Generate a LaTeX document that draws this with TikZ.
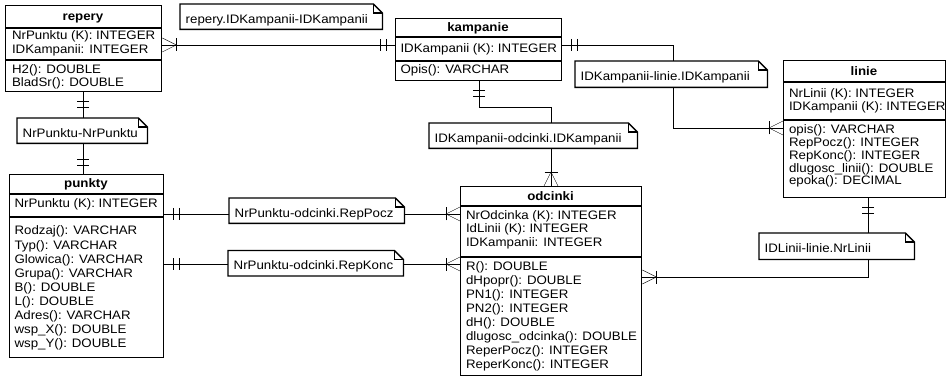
\documentclass[tikz,border=0pt]{standalone}
\usepackage{fontspec}
\setmainfont{Liberation Sans}[FakeStretch=1.08]
\usetikzlibrary{backgrounds}
\newcommand\entsep[3][1.3pt]{\draw[line width=#1] ([yshift=-#3]#2.north west) -- ([yshift=-#3]#2.north east);}
\newcommand\noteoutline[1]{%
  \draw[draw=black,line width=1.3pt,line join=miter] (#1.north west) -- ([xshift=-9pt]#1.north east) -- ([yshift=-9pt]#1.north east) -- (#1.south east) -- (#1.south west) -- cycle;
  \draw[draw=black,line width=1.1pt] ([xshift=-9pt]#1.north east) |- ([yshift=-9pt]#1.north east);}
\tikzset{
  crow/.pic={\draw (0,-7) -- (14,0) -- (0,7); \draw (14,-6.5) -- (14,6.5);},
  dbar/.pic={\draw (9,-6) -- (9,6) (15,-6) -- (15,6);}
}
\begin{document}
\begin{tikzpicture}[x=1pt,y=-1pt,line width=1.1pt,
  every node/.style={font=\fontsize{12.3}{14}\selectfont},
  ent/.style={draw,line width=1.3pt,rectangle,inner sep=0pt,anchor=north west},
  ttl/.style={font=\fontsize{12.3}{14}\selectfont\bfseries,anchor=base,inner sep=0pt},
  attr/.style={anchor=base west,inner sep=0pt},
  notebox/.style={fill=white,inner xsep=5.5pt,inner ysep=0pt,anchor=north west,align=left,text height=12.8pt,text depth=0pt,minimum height=25pt}
]
\useasboundingbox (0,0) rectangle (946,377);

% ---------- entities ----------
\node[ent,minimum width=156pt,minimum height=86pt] (repery) at (5,5) {};
\node[ttl] (repery-t) at (83,20.5) {repery};
\entsep{repery}{23pt}\entsep{repery}{55pt}
\node[attr] (rep-1) at (11.5,39.5) {NrPunktu (K): INTEGER};
\node[attr] (rep-2) at (11.5,53.5) {IDKampanii: INTEGER};
\node[attr] (rep-3) at (11.5,73.5) {H2(): DOUBLE};
\node[attr] (rep-4) at (11.5,87) {BladSr(): DOUBLE};

\node[ent,minimum width=166pt,minimum height=62pt] (kampanie) at (395,18) {};
\node[ttl] (kampanie-t) at (478,31.5) {kampanie};
\entsep{kampanie}{19pt}\entsep{kampanie}{43pt}
\node[attr] (kam-1) at (400,52.5) {IDKampanii (K): INTEGER};
\node[attr] (kam-2) at (400,74) {Opis(): VARCHAR};

\node[ent,minimum width=162pt,minimum height=137pt] (linie) at (783,60) {};
\node[ttl] (linie-t) at (864,75.5) {linie};
\entsep{linie}{22pt}\entsep{linie}{60pt}
\foreach \t/\y [count=\i] in {NrLinii (K): INTEGER/97.5, IDKampanii (K): INTEGER/110.5,
  opis(): VARCHAR/134, RepPocz(): INTEGER/147, RepKonc(): INTEGER/160,
  dlugosc\_linii(): DOUBLE/172.5, epoka(): DECIMAL/185}
  \node[attr] (lin-\i) at (788.5,\y) {\t};

\node[ent,minimum width=154pt,minimum height=183pt] (punkty) at (9,174) {};
\node[ttl] (punkty-t) at (86,188) {punkty};
\entsep{punkty}{20pt}\entsep[2pt]{punkty}{43pt}
\node[attr] (pun-k) at (14,207.5) {NrPunktu (K): INTEGER};
\foreach \t [count=\i from 0] in {Rodzaj(): VARCHAR, Typ(): VARCHAR, Glowica(): VARCHAR,
  Grupa(): VARCHAR, B(): DOUBLE, L(): DOUBLE, Adres(): VARCHAR, wsp\_X(): DOUBLE, wsp\_Y(): DOUBLE}
  \node[attr] (pun-\i) at (14,{235+14.04*\i}) {\t};

\node[ent,minimum width=181pt,minimum height=189pt] (odcinki) at (460,186) {};
\node[ttl] (odcinki-t) at (550.5,200.5) {odcinki};
\entsep{odcinki}{20pt}\entsep{odcinki}{71pt}
\foreach \t [count=\i from 0] in {NrOdcinka (K): INTEGER, IdLinii (K): INTEGER, IDKampanii: INTEGER}
  \node[attr] (odk-\i) at (465.5,{219+14*\i}) {\t};
\foreach \t [count=\i from 0] in {R(): DOUBLE, dHpopr(): DOUBLE, PN1(): INTEGER, PN2(): INTEGER,
  dH(): DOUBLE, dlugosc\_odcinka(): DOUBLE, ReperPocz(): INTEGER, ReperKonc(): INTEGER}
  \node[attr] (oda-\i) at (465.5,{270.7+13.94*\i}) {\t};

% ---------- helper coordinates ----------
\coordinate (r1) at (0,45);
\coordinate (rl) at (0,128);
\coordinate (bk) at (0,107);
\coordinate (r5) at (0,214);
\coordinate (r6) at (0,264);
\coordinate (r7) at (0,277);
\coordinate (x2) at (673,0);
\coordinate (x3k) at (479,0);
\coordinate (x3o) at (551,0);
\coordinate (x4) at (83,0);
\coordinate (x7) at (868,0);

% ---------- connectors ----------
\begin{pgfonlayer}{background}
\draw (repery.east |- r1) -- (kampanie.west |- r1);
\draw (kampanie.east |- r1) -| (x2 |- rl) -- (linie.west |- rl);
\draw (kampanie.south -| x3k) |- (bk -| x3o) -- (odcinki.north -| x3o);
\draw (repery.south -| x4) -- (punkty.north -| x4);
\draw (punkty.east |- r5) -- (odcinki.west |- r5);
\draw (punkty.east |- r6) -- (odcinki.west |- r6);
\draw (linie.south -| x7) |- (odcinki.east |- r7);
\end{pgfonlayer}

\pic at (repery.east |- r1) {crow};
\pic[rotate=180] at (kampanie.west |- r1) {dbar};
\pic at (kampanie.east |- r1) {dbar};
\pic[rotate=180] at (linie.west |- rl) {crow};
\pic[rotate=-90] at (kampanie.south -| x3k) {dbar};
\pic[rotate=90] at (odcinki.north -| x3o) {crow};
\pic[rotate=-90] at (repery.south -| x4) {dbar};
\pic[rotate=90] at (punkty.north -| x4) {dbar};
\pic at (punkty.east |- r5) {dbar};
\pic[rotate=180] at (odcinki.west |- r5) {crow};
\pic at (punkty.east |- r6) {dbar};
\pic[rotate=180] at (odcinki.west |- r6) {crow};
\pic[rotate=-90] at (linie.south -| x7) {dbar};
\pic at (odcinki.east |- r7) {crow};

% ---------- notes ----------
\node[notebox,text width=191pt] (n1) at (180,4) {repery.IDKampanii-IDKampanii};
\node[notebox,text width=119pt] (n2) at (17,118) {NrPunktu-NrPunktu};
\node[notebox,text width=181pt,minimum height=26pt] (n3) at (575,61) {IDKampanii-linie.IDKampanii};
\node[notebox,text width=197pt] (n4) at (429,123) {IDKampanii-odcinki.IDKampanii};
\node[notebox,text width=164pt] (n5) at (229,198) {NrPunktu-odcinki.RepPocz};
\node[notebox,text width=164pt] (n6) at (228,250.5) {NrPunktu-odcinki.RepKonc};
\node[notebox,text width=144pt,minimum height=26pt] (n7) at (759,233) {IDLinii-linie.NrLinii};
\noteoutline{n1}\noteoutline{n2}\noteoutline{n3}\noteoutline{n4}
\noteoutline{n5}\noteoutline{n6}\noteoutline{n7}
\end{tikzpicture}
\end{document}
